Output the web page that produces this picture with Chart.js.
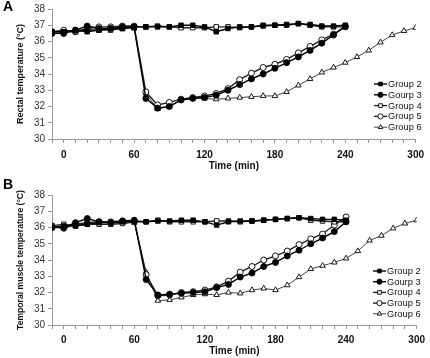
<!DOCTYPE html>
<html>
<head>
<meta charset="utf-8">
<script src="https://cdn.jsdelivr.net/npm/chart.js@4.4.1/dist/chart.umd.min.js"></script>
<style>
body{margin:0;background:#fff}
.box{position:relative;width:430px}
.lab{position:absolute;left:3px;font:bold 14px "Liberation Sans",Arial,sans-serif;color:#000}
canvas{display:block}
</style>
</head>
<body>
<div class="box" style="height:178px"><canvas id="cA" width="430" height="178"></canvas><div class="lab" style="top:-2px">A</div></div>
<div class="box" style="height:180px"><canvas id="cB" width="430" height="180"></canvas><div class="lab" style="top:-2px">B</div></div>
<script>
// time points (min)
var times = [-10,0,10,20,30,40,50,60,70,80,90,100,110,120,130,140,150,160,170,180,190,200,210,220,230,240]
var times6 = [-10,0,10,20,30,40,50,60,70,80,90,100,110,120,130,140,150,160,170,180,190,200,210,220,230,240,250,260,270,280,290,300]
var groups = ["Group 2","Gourp 3","Group 4","Group 5","Group 6"]
var yTicks = [30,31,32,33,34,35,36,37,38]
var xLabels = [0,60,120,180,240,300]

// A - rectal temperature
var rect2 = [36.6,36.6,36.7,36.6,36.7,36.8,36.8,36.9,36.9,36.9,36.9,37.0,37.0,36.9,36.6,36.8,36.9,36.9,37.0,37.0,37.05,37.1,37.05,36.95,36.95,37.0]
var rect3 = [36.5,36.5,36.7,36.95,36.8,36.8,36.9,36.9,32.5,31.9,32.0,32.4,32.5,32.55,32.7,33.0,33.35,33.7,34.0,34.35,34.7,35.05,35.45,35.9,36.4,36.95]
var rect4 = [36.6,36.6,36.6,36.7,36.7,36.7,36.8,36.9,36.9,36.95,36.9,36.85,36.85,36.85,36.9,36.9,36.85,36.9,36.95,37.0,37.0,37.1,37.0,36.9,36.9,36.9]
var rect5 = [36.6,36.7,36.6,36.8,36.9,36.9,36.95,36.95,32.9,32.1,32.25,32.45,32.55,32.65,32.8,33.1,33.65,34.05,34.4,34.6,34.9,35.3,35.7,36.1,36.45,36.9]
var rect6 = [36.6,36.6,36.7,36.7,36.8,36.8,36.8,36.8,32.8,31.85,32.0,32.4,32.5,32.5,32.45,32.5,32.55,32.6,32.65,32.65,32.9,33.3,33.7,34.1,34.4,34.7,35.05,35.45,35.95,36.4,36.65,36.85]

// B - temporal muscle temperature
var musc2 = [36.0,36.1,36.1,36.2,36.3,36.3,36.35,36.4,36.35,36.4,36.4,36.45,36.45,36.35,36.15,36.35,36.4,36.4,36.45,36.5,36.55,36.6,36.55,36.5,36.5,36.45]
var musc3 = [36.0,36.0,36.3,36.55,36.35,36.3,36.4,36.45,32.8,31.85,31.9,31.95,32.0,32.05,32.3,32.5,32.95,33.2,33.6,33.85,34.25,34.6,35.0,35.35,35.75,36.35]
var musc4 = [36.1,36.2,36.1,36.2,36.2,36.2,36.25,36.35,36.35,36.45,36.35,36.35,36.35,36.35,36.4,36.4,36.35,36.4,36.45,36.5,36.55,36.6,36.45,36.4,36.35,36.35]
var musc5 = [36.1,35.95,36.2,36.3,36.35,36.35,36.4,36.4,33.1,31.8,31.85,32.0,32.05,32.15,32.35,32.7,33.25,33.6,34.0,34.25,34.55,34.95,35.3,35.6,36.15,36.65]
var musc6 = [36.0,36.05,36.15,36.25,36.3,36.3,36.3,36.3,33.25,31.5,31.55,31.7,31.85,31.9,31.85,32.0,31.95,32.15,32.25,32.15,32.45,32.95,33.45,33.65,33.85,34.1,34.55,35.2,35.5,35.95,36.25,36.45]

var FONT = '"Liberation Sans", Arial, sans-serif'
var styles = [
  {pointStyle:'rect',fill:'#000',line:'#000'},
  {pointStyle:'circle',fill:'#000',line:'#000'},
  {pointStyle:'rect',fill:'#fff',line:'#222'},
  {pointStyle:'circle',fill:'#fff',line:'#222'},
  {pointStyle:'triangle',fill:'#fff',line:'#444'}
]

function pts(t,v){
  return t.map(function(x,i){return {x:x,y:v[i]}})
}

function makeSets(list){
  return list.map(function(v,i){
    var s = styles[i]
    return {
      label:groups[i],
      data:pts(i==4?times6:times,v),
      borderColor:s.line,
      borderWidth:i==4?1:1.4,
      pointStyle:s.pointStyle,
      pointRadius:s.pointStyle=='circle'?3:3.2,
      pointBackgroundColor:s.fill,
      pointBorderColor:'#000',
      pointBorderWidth:0.9,
      tension:0
    }
  })
}

// legend drawn inside plot
var legendBox = {
  id:'legendBox',
  afterDatasetsDraw(chart,args,o){
    var ctx = chart.ctx
    ctx.save()
    chart.data.datasets.forEach(function(ds,i){
      var y = o.y + i*o.gap
      ctx.strokeStyle = ds.borderColor
      ctx.lineWidth = ds.borderWidth
      ctx.beginPath(); ctx.moveTo(o.x,y); ctx.lineTo(o.x+13,y); ctx.stroke()
      ctx.fillStyle = ds.pointBackgroundColor
      ctx.strokeStyle = '#000'
      ctx.lineWidth = 0.9
      Chart.helpers.drawPoint(ctx,{pointStyle:ds.pointStyle,radius:2.6,borderWidth:0.9,rotation:0},o.x+6.5,y)
      ctx.fillStyle = '#111'
      ctx.font = '9.3px '+FONT
      ctx.textBaseline = 'middle'
      ctx.fillText(ds.label,o.x+14,y+0.5)
    })
    ctx.restore()
  }
}

function makeChart(id,list,ytitle,h){
  return new Chart(document.getElementById(id),{
    type:'line',
    data:{datasets:makeSets(list)},
    plugins:[legendBox],
    options:{
      responsive:false,
      animation:false,
      layout:{padding:{left:0,top:h.top,right:8,bottom:0}},
      plugins:{legend:{display:false},tooltip:{enabled:false},legendBox:h.legend},
      scales:{
        x:{
          type:'linear',min:-10,max:300,
          ticks:{stepSize:10,autoSkip:false,maxRotation:0,padding:h.lpad,color:'#111',
            font:{family:FONT,size:10,weight:'bold'},
            callback:function(v){return xLabels.indexOf(v)>=0?v:''}},
          grid:{drawOnChartArea:false,drawTicks:true,tickLength:4,color:'#999'},
          border:{color:'#999'},
          title:{display:true,text:'Time (min)',color:'#111',font:{family:FONT,size:10,weight:'bold'},padding:{top:0,bottom:h.tpad}},
          afterFit:function(s){s.height=h.xh}
        },
        y:{
          min:yTicks[0],max:yTicks[yTicks.length-1],
          ticks:{stepSize:1,padding:3,color:'#333',font:{family:FONT,size:10}},
          grid:{drawOnChartArea:false,drawTicks:true,tickLength:4,color:'#999'},
          border:{color:'#999'},
          title:{display:true,text:ytitle,color:'#111',font:{family:FONT,size:h.yfs,weight:'bold'},padding:{top:15,bottom:0}},
          afterFit:function(s){s.width=52}
        }
      }
    }
  })
}

makeChart('cA',[rect2,rect3,rect4,rect5,rect6],'Rectal temperature (\u00b0C)',{top:5,xh:39,tpad:6,lpad:6,yfs:9,legend:{x:374,y:84,gap:10.8}})
makeChart('cB',[musc2,musc3,musc4,musc5,musc6],'Temporal muscle temperature (\u00b0C)',{top:17,xh:33,tpad:1,lpad:5,yfs:8.6,legend:{x:373,y:93,gap:10.7}})
</script>
</body>
</html>
